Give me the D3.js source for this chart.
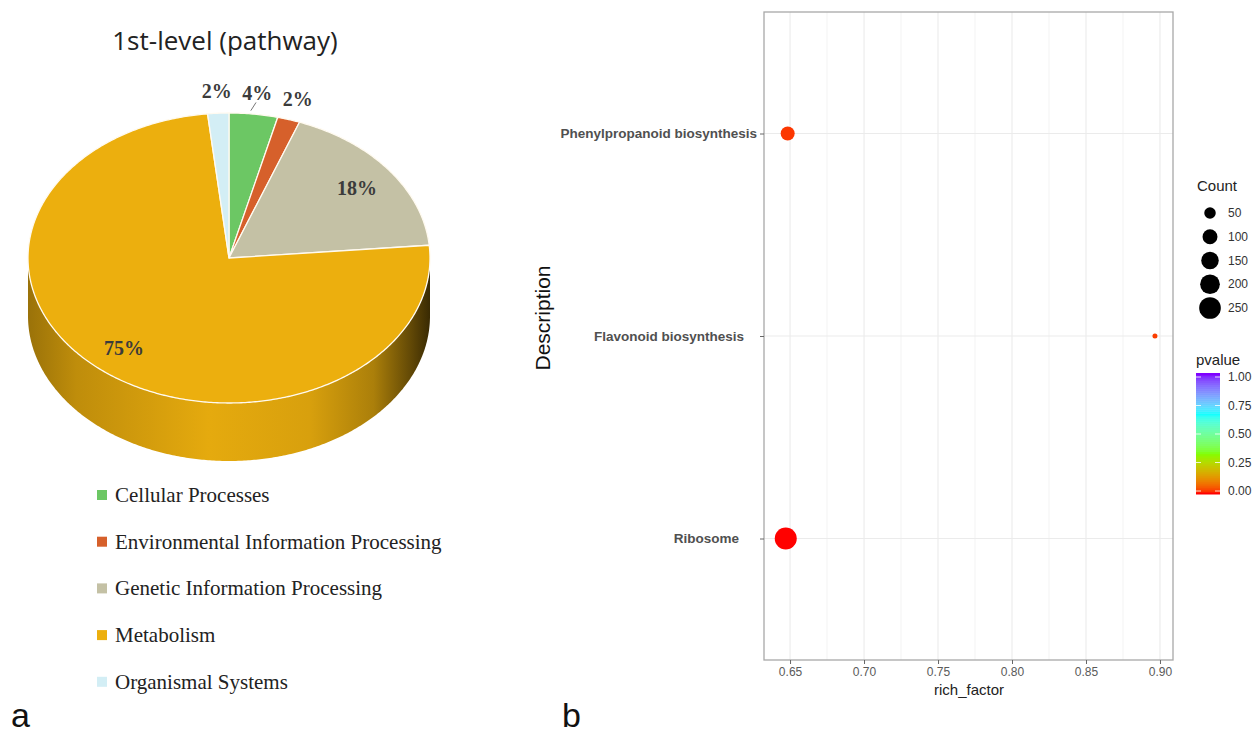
<!DOCTYPE html>
<html>
<head>
<meta charset="utf-8">
<script src="https://cdn.jsdelivr.net/npm/d3@7"></script>
<style>
  html, body { margin: 0; padding: 0; background: #fff; }
  svg { display: block; }
</style>
</head>
<body>
<svg id="fig" width="1255" height="736"></svg>
<script>
// ---- Panel a: KEGG 1st-level pathway shares ----
const pieCategories = ["Cellular Processes", "Environmental Information Processing",
  "Genetic Information Processing", "Metabolism", "Organismal Systems"];
const pieValues = [3.9, 1.8, 17.9, 74.7, 1.7];
const pieColors = ["#6cc764", "#d6602b", "#c4c1a5", "#ecaf0e", "#d3eef5"];

// ---- Panel b: enrichment bubble chart ----
const pathways = ["Phenylpropanoid biosynthesis", "Flavonoid biosynthesis", "Ribosome"];
const richFactor = [0.6484, 0.8966, 0.6471];
const counts = [85, 2, 260];
const pvalues = [0.02, 0.025, 0.0001];
const xTicks = [0.65, 0.70, 0.75, 0.80, 0.85, 0.90];
const countLegend = [50, 100, 150, 200, 250];
const pvalueTicks = [0, 0.25, 0.5, 0.75, 1];
const pvalueColors = ["#ff0000", "#80ff00", "#00ffff", "#8000ff"];

const svg = d3.select("#fig");
svg.append("rect").attr("width", 1255).attr("height", 736).attr("fill", "#fff");
const defs = svg.append("defs");

// ================= PIE =================
const P = { cx: 229, cy: 258, rx: 201, ry: 145, depth: 58 };
const total = d3.sum(pieValues);
const arcs = d3.pie().sort(null).value(d => d)(pieValues);
const ept = (a, k = 1, dy = 0) => [P.cx + k * P.rx * Math.sin(a), P.cy - k * P.ry * Math.cos(a) + dy];

function arcPoints(a0, a1, dy = 0) {
  const n = Math.max(2, Math.ceil((a1 - a0) / 0.01));
  return d3.range(n + 1).map(i => ept(a0 + (a1 - a0) * i / n, 1, dy));
}

const pieG = svg.append("g");

// side walls (front half only: angles between pi/2 and 3pi/2)
arcs.forEach((a, i) => {
  const s = Math.max(a.startAngle, Math.PI / 2), e = Math.min(a.endAngle, 3 * Math.PI / 2);
  if (e <= s) return;
  const base = d3.color(pieColors[i]);
  const gid = "side" + i;
  const g = defs.append("linearGradient").attr("id", gid)
    .attr("gradientUnits", "userSpaceOnUse")
    .attr("x1", P.cx - P.rx).attr("x2", P.cx + P.rx).attr("y1", 0).attr("y2", 0);
  [[0, base.darker(1.2)], [0.12, base.darker(0.6)], [0.45, base.darker(0.08)],
   [0.7, base.darker(0.25)], [0.86, base.darker(0.9)], [0.95, base.darker(2.4)], [1, base.darker(4)]]
    .forEach(([o, c]) => g.append("stop").attr("offset", o).attr("stop-color", c));
  const top = arcPoints(s, e, 0), bot = arcPoints(s, e, P.depth).reverse();
  pieG.append("path")
    .attr("d", "M" + top.concat(bot).map(p => p.join(",")).join("L") + "Z")
    .attr("fill", `url(#${gid})`);
});

// top faces
arcs.forEach((a, i) => {
  const pts = arcPoints(a.startAngle, a.endAngle);
  pieG.append("path")
    .attr("d", `M${P.cx},${P.cy}L` + pts.map(p => p.join(",")).join("L") + "Z")
    .attr("fill", pieColors[i])
    .attr("stroke", "#fffaf0").attr("stroke-width", 1.3).attr("stroke-linejoin", "round");
});

// percentage labels
const leaderFor = ["Cellular Processes"];
arcs.forEach((a, i) => {
  const share = a.value / total;
  const mid = (a.startAngle + a.endAngle) / 2;
  const inside = share > 0.1;
  const [lx, ly] = ept(mid, inside ? 0.8 : 1.15);
  pieG.append("text")
    .attr("x", inside && share > 0.5 ? lx - 3 : lx).attr("y", ly)
    .attr("text-anchor", "middle").attr("dominant-baseline", "central")
    .attr("font-family", "'Liberation Serif', 'Times New Roman', serif")
    .attr("font-weight", "bold").attr("font-size", 20).attr("fill", "#3b3b3b")
    .text(Math.round(share * 100) + "%");
  if (leaderFor.includes(pieCategories[i])) {
    const [x0, y0] = ept(mid, 1.01), [x1, y1] = ept(mid, 1.06);
    pieG.append("line").attr("x1", x0 - 3).attr("y1", y0 - 2).attr("x2", x1 + 1).attr("y2", y1 - 3)
      .attr("stroke", "#777").attr("stroke-width", 1);
  }
});

// title
svg.append("text").attr("x", 225).attr("y", 50).attr("text-anchor", "middle")
  .attr("font-family", "'Open Sans', 'Noto Sans', sans-serif").attr("font-size", 26).attr("fill", "#222")
  .text("1st-level (pathway)");

// legend
const lg = svg.append("g").attr("transform", "translate(97,495)");
pieCategories.forEach((c, i) => {
  const row = lg.append("g").attr("transform", `translate(0,${i * 46.7})`);
  row.append("rect").attr("x", 0).attr("y", -5).attr("width", 10).attr("height", 10).attr("fill", pieColors[i]);
  row.append("text").attr("x", 18).attr("y", 0).attr("dominant-baseline", "central")
    .attr("font-family", "'Liberation Serif', 'Times New Roman', serif").attr("font-size", 21).attr("fill", "#222")
    .text(c);
});

// ================= BUBBLE CHART =================
const M = { left: 764, right: 1173, top: 12, bottom: 660 };
const x = d3.scaleLinear().domain([0.6324, 0.9088]).range([M.left, M.right]);
const y = d3.scalePoint().domain(pathways).range([M.top, M.bottom]).padding(0.6);
const r = d3.scaleSqrt().domain([d3.min(counts), d3.max(counts)]).range([2.5, 11]);
const col = d3.scaleLinear().domain([0, 1 / 3, 2 / 3, 1]).range(pvalueColors).interpolate(d3.interpolateLab);

const plot = svg.append("g");
// grid
const minor = d3.range(xTicks.length - 1).map(i => (xTicks[i] + xTicks[i + 1]) / 2);
plot.selectAll(".gminor").data(minor).join("line")
  .attr("x1", d => x(d)).attr("x2", d => x(d)).attr("y1", M.top).attr("y2", M.bottom)
  .attr("stroke", "#f3f3f3").attr("stroke-width", 1);
plot.selectAll(".gx").data(xTicks).join("line")
  .attr("x1", d => x(d)).attr("x2", d => x(d)).attr("y1", M.top).attr("y2", M.bottom)
  .attr("stroke", "#ebebeb").attr("stroke-width", 1.1);
plot.selectAll(".gy").data(pathways).join("line")
  .attr("x1", M.left).attr("x2", M.right).attr("y1", d => y(d)).attr("y2", d => y(d))
  .attr("stroke", "#ebebeb").attr("stroke-width", 1.1);

// points
plot.selectAll(".pt").data(pathways).join("circle")
  .attr("cx", (d, i) => x(richFactor[i])).attr("cy", d => y(d))
  .attr("r", (d, i) => r(counts[i])).attr("fill", (d, i) => col(pvalues[i]));

// border
plot.append("rect").attr("x", M.left).attr("y", M.top)
  .attr("width", M.right - M.left).attr("height", M.bottom - M.top)
  .attr("fill", "none").attr("stroke", "#a8a8a8").attr("stroke-width", 1.3);

// axes
const xAxis = plot.append("g").attr("transform", `translate(0,${M.bottom})`)
  .call(d3.axisBottom(x).tickValues(xTicks).tickFormat(d3.format(".2f")).tickSize(4).tickPadding(3));
xAxis.select(".domain").remove();
xAxis.selectAll("line").attr("stroke", "#666");
xAxis.selectAll("text").attr("font-family", "'Liberation Sans', Arial, sans-serif")
  .attr("font-size", 12).attr("fill", "#5a5a5a");

const labelIndent = { "Flavonoid biosynthesis": 13, "Ribosome": 18 };
const yAxis = plot.append("g").attr("transform", `translate(${M.left},0)`)
  .call(d3.axisLeft(y).tickSize(4).tickPadding(3));
yAxis.select(".domain").remove();
yAxis.selectAll("line").attr("stroke", "#666");
yAxis.selectAll("text").attr("font-family", "'Liberation Sans', Arial, sans-serif")
  .attr("font-size", 13.5).attr("font-weight", "bold").attr("fill", "#505050")
  .attr("dx", d => -(labelIndent[d] || 0));

svg.append("text").attr("x", 969).attr("y", 695).attr("text-anchor", "middle")
  .attr("font-family", "'Liberation Sans', Arial, sans-serif").attr("font-size", 15).attr("fill", "#222")
  .text("rich_factor");
svg.append("text").attr("transform", "translate(550,318) rotate(-90)").attr("text-anchor", "middle")
  .attr("font-family", "'Liberation Sans', Arial, sans-serif").attr("font-size", 21).attr("fill", "#111")
  .text("Description");

// size legend
const sl = svg.append("g");
sl.append("text").attr("x", 1197).attr("y", 191).attr("font-family", "'Liberation Sans', Arial, sans-serif")
  .attr("font-size", 15).attr("fill", "#222").text("Count");
const ly = d3.scalePoint().domain(countLegend).range([213, 308]);
sl.selectAll(".lc").data(countLegend).join("circle")
  .attr("cx", 1210).attr("cy", d => ly(d)).attr("r", d => r(d)).attr("fill", "#000");
sl.selectAll(".lt").data(countLegend).join("text")
  .attr("x", 1228).attr("y", d => ly(d)).attr("dominant-baseline", "central")
  .attr("font-family", "'Liberation Sans', Arial, sans-serif").attr("font-size", 12).attr("fill", "#333")
  .text(d => d);

// colour bar legend
const cb = svg.append("g");
cb.append("text").attr("x", 1196).attr("y", 365).attr("font-family", "'Liberation Sans', Arial, sans-serif")
  .attr("font-size", 15).attr("fill", "#222").text("pvalue");
const cbTop = 373, cbBot = 494, cbX = 1196, cbW = 24;
const pv = d3.scaleLinear().domain([0, 1]).range([491, 377]);
const nb = 60;
const bins = d3.range(nb).map(i => i / (nb - 1));
const binH = (cbBot - cbTop) / nb;
cb.selectAll(".bin").data(bins).join("rect")
  .attr("x", cbX).attr("width", cbW)
  .attr("y", (d, i) => cbBot - (i + 1) * binH).attr("height", binH + 0.5)
  .attr("fill", d => col(d));
cb.selectAll(".tk").data(pvalueTicks).join("g").each(function(d) {
  const g = d3.select(this);
  g.append("line").attr("x1", cbX).attr("x2", cbX + 5).attr("y1", pv(d)).attr("y2", pv(d))
    .attr("stroke", "#fff").attr("stroke-opacity", 0.8);
  g.append("line").attr("x1", cbX + cbW - 5).attr("x2", cbX + cbW).attr("y1", pv(d)).attr("y2", pv(d))
    .attr("stroke", "#fff").attr("stroke-opacity", 0.8);
});
cb.selectAll(".tt").data(pvalueTicks).join("text")
  .attr("x", 1228).attr("y", d => pv(d)).attr("dominant-baseline", "central")
  .attr("font-family", "'Liberation Sans', Arial, sans-serif").attr("font-size", 12).attr("fill", "#333")
  .text(d3.format(".2f"));

// panel letters
svg.append("text").attr("x", 11).attr("y", 727).attr("font-family", "'Liberation Sans', Arial, sans-serif")
  .attr("font-size", 34).attr("fill", "#111").text("a");
svg.append("text").attr("x", 562).attr("y", 727).attr("font-family", "'Liberation Sans', Arial, sans-serif")
  .attr("font-size", 34).attr("fill", "#111").text("b");
</script>
</body>
</html>
